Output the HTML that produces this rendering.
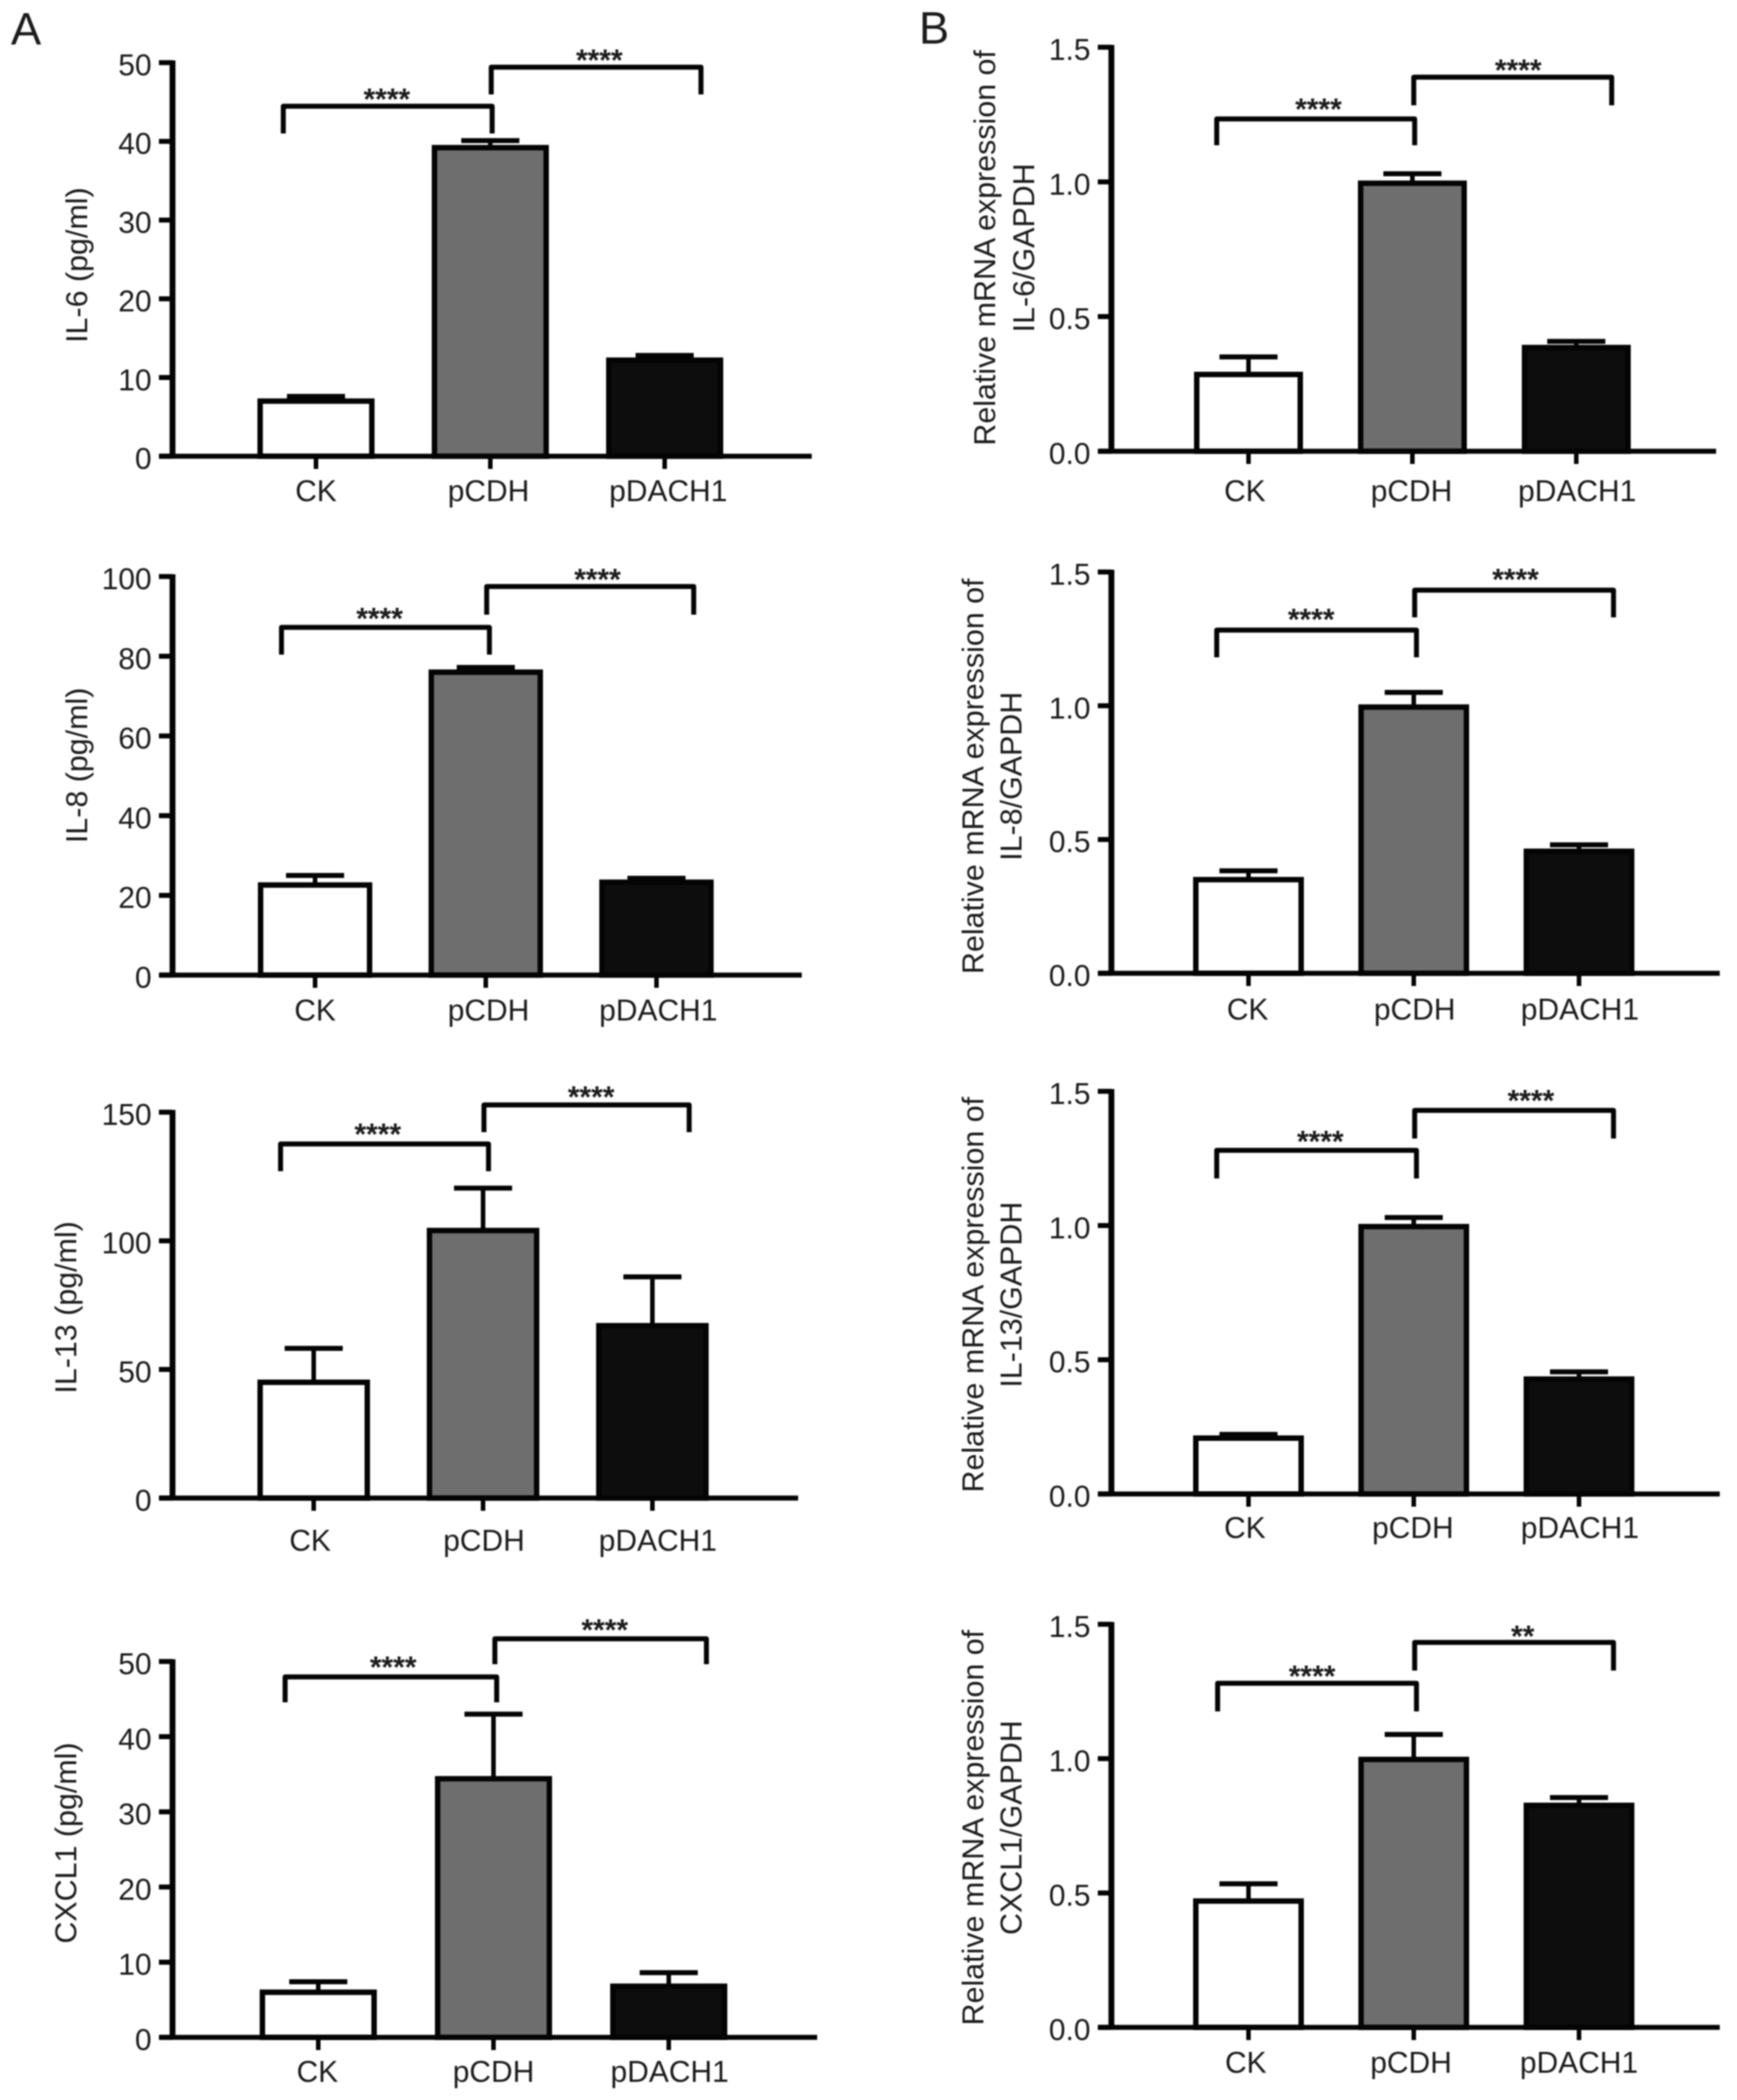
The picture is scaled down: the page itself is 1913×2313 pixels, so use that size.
<!DOCTYPE html>
<html lang="en">
<head>
<meta charset="utf-8">
<title>Cytokine levels and relative mRNA expression</title>
<style>
  html, body { margin: 0; padding: 0; background: #ffffff; }
  #figure { display: block; width: 1913px; height: 2313px; filter: blur(0.7px); }
  text { font-family: "Liberation Sans", sans-serif; fill: #1c1c1c; }
</style>
</head>
<body>
<svg id="figure" xmlns="http://www.w3.org/2000/svg" width="1913" height="2313" viewBox="0 0 1913 2313">
  <rect x="0" y="0" width="1913" height="2313" fill="#ffffff"/>
  <text x="12" y="49" font-size="50">A</text>
  <text x="1012" y="48" font-size="50">B</text>
</svg>
<script>
// ---- Chart data ----
const categories = ['CK', 'pCDH', 'pDACH1'];

const il6ProteinMeans = [7.0, 39.2, 12.2];
const il6ProteinTops = [7.6, 40.1, 12.8];
const il8ProteinMeans = [22.6, 76.0, 23.3];
const il8ProteinTops = [25.0, 77.2, 24.3];
const il13ProteinMeans = [45.0, 104.0, 67.0];
const il13ProteinTops = [58.2, 120.5, 86.0];
const cxcl1ProteinMeans = [6.0, 34.4, 6.8];
const cxcl1ProteinTops = [7.4, 43.0, 8.6];

const il6MrnaMeans = [0.285, 0.995, 0.385];
const il6MrnaTops = [0.35, 1.03, 0.408];
const il8MrnaMeans = [0.35, 0.995, 0.456];
const il8MrnaTops = [0.383, 1.05, 0.48];
const il13MrnaMeans = [0.208, 0.996, 0.428];
const il13MrnaTops = [0.222, 1.03, 0.455];
const cxcl1MrnaMeans = [0.47, 0.997, 0.826];
const cxcl1MrnaTops = [0.534, 1.09, 0.855];

const ticksIl6Protein = [0, 10, 20, 30, 40, 50];
const ticksIl8Protein = [0, 20, 40, 60, 80, 100];
const ticksIl13Protein = [0, 50, 100, 150];
const ticksCxcl1Protein = [0, 10, 20, 30, 40, 50];
const ticksMrna = ['0.0', '0.5', '1.0', '1.5'];

const significanceDefault = ['****', '****'];
const significanceCxcl1Mrna = ['****', '**'];

// ---- Panel wiring and layout ----
const barFills = ['#ffffff', '#6e6e6e', '#0d0d0d'];

const panels = [
  { id: 'il6-protein', means: il6ProteinMeans, tops: il6ProteinTops, ticks: ticksIl6Protein, stars: significanceDefault,
    title: ['IL-6 (pg/ml)'], titleX: [96], titleY: 292,
    axisX: 190, y0: 502.5, yTop: 69, xEnd: 894, x0: 348, step: 192, barW: 129, labelY: 552, labelDx: [0, -2, 4],
    brackets: [[312, 542, 117, 147, 426, 101], [541, 772, 74, 104, 660, 58]] },
  { id: 'il8-protein', means: il8ProteinMeans, tops: il8ProteinTops, ticks: ticksIl8Protein, stars: significanceDefault,
    title: ['IL-8 (pg/ml)'], titleX: [96], titleY: 843,
    axisX: 190, y0: 1074, yTop: 635, xEnd: 883, x0: 347, step: 188, barW: 126, labelY: 1124, labelDx: [0, 3, 2],
    brackets: [[310, 539, 691, 721, 418, 673], [536, 764, 646, 677, 658, 630]] },
  { id: 'il13-protein', means: il13ProteinMeans, tops: il13ProteinTops, ticks: ticksIl13Protein, stars: significanceDefault,
    title: ['IL-13 (pg/ml)'], titleX: [84], titleY: 1440,
    axisX: 190, y0: 1650, yTop: 1225, xEnd: 879, x0: 345.5, step: 186.5, barW: 124, labelY: 1708, labelDx: [-4, 1, 6],
    brackets: [[309, 538, 1260, 1290, 416, 1241], [533, 759, 1217, 1247, 651, 1200]] },
  { id: 'cxcl1-protein', means: cxcl1ProteinMeans, tops: cxcl1ProteinTops, ticks: ticksCxcl1Protein, stars: significanceDefault,
    title: ['CXCL1 (pg/ml)'], titleX: [84], titleY: 2030,
    axisX: 190, y0: 2244, yTop: 1830, xEnd: 900, x0: 350.5, step: 193, barW: 129, labelY: 2293, labelDx: [-1, 0, 1],
    brackets: [[314, 547, 1847, 1875, 433, 1828], [545, 778, 1805, 1833, 666, 1787]] },
  { id: 'il6-mrna', means: il6MrnaMeans, tops: il6MrnaTops, ticks: ticksMrna, stars: significanceDefault,
    title: ['Relative mRNA expression of', 'IL-6/GAPDH'], titleX: [1096, 1139], titleY: 273,
    axisX: 1224, y0: 497, yTop: 52, xEnd: 1890, x0: 1375, step: 180.5, barW: 120, labelY: 552, labelDx: [-4, -1, 1],
    brackets: [[1340, 1558, 131, 160, 1452, 112], [1557, 1775, 85, 116, 1672, 69]] },
  { id: 'il8-mrna', means: il8MrnaMeans, tops: il8MrnaTops, ticks: ticksMrna, stars: significanceDefault,
    title: ['Relative mRNA expression of', 'IL-8/GAPDH'], titleX: [1083, 1125], titleY: 855,
    axisX: 1224, y0: 1072, yTop: 630, xEnd: 1894, x0: 1375, step: 182, barW: 122, labelY: 1123, labelDx: [-1, 1, 1],
    brackets: [[1340, 1560, 694, 724, 1444, 674], [1558, 1777, 650, 680, 1669, 630]] },
  { id: 'il13-mrna', means: il13MrnaMeans, tops: il13MrnaTops, ticks: ticksMrna, stars: significanceDefault,
    title: ['Relative mRNA expression of', 'IL-13/GAPDH'], titleX: [1083, 1125], titleY: 1426,
    axisX: 1224, y0: 1645.5, yTop: 1202, xEnd: 1894, x0: 1375, step: 182, barW: 122, labelY: 1694, labelDx: [-4, -1, 1],
    brackets: [[1340, 1560, 1267, 1298, 1454, 1249], [1558, 1777, 1223, 1254, 1686, 1204]] },
  { id: 'cxcl1-mrna', means: cxcl1MrnaMeans, tops: cxcl1MrnaTops, ticks: ticksMrna, stars: significanceCxcl1Mrna,
    title: ['Relative mRNA expression of', 'CXCL1/GAPDH'], titleX: [1083, 1125], titleY: 2013,
    axisX: 1224, y0: 2233, yTop: 1789, xEnd: 1894, x0: 1375, step: 182, barW: 122, labelY: 2283, labelDx: [-3, -3, 0],
    brackets: [[1341, 1560, 1854, 1885, 1445, 1838], [1558, 1777, 1809, 1840, 1677, 1794]] }
];

// ---- Rendering ----
const NS = 'http://www.w3.org/2000/svg';
const root = document.getElementById('figure');
const INK = '#040404';
const STAR_FS = 33;

function make(parent, tag, attrs, content) {
  const el = document.createElementNS(NS, tag);
  Object.keys(attrs).forEach(function (k) { el.setAttribute(k, attrs[k]); });
  if (content !== undefined) el.textContent = content;
  parent.appendChild(el);
  return el;
}

function line(parent, x1, y1, x2, y2, w) {
  return make(parent, 'line', { x1: x1, y1: y1, x2: x2, y2: y2, stroke: INK, 'stroke-width': w });
}

panels.forEach(function (p) {
  const g = make(root, 'g', {});
  
  

  const tickValues = p.ticks.map(Number);
  const yMax = Math.max.apply(null, tickValues);
  const yScale = function (v) { return p.y0 - (v / yMax) * (p.y0 - p.yTop); };
  const xScale = function (i) { return p.x0 + i * p.step; };

  // bars and error bars, drawn first so the axis sits on top
  categories.forEach(function (cat, i) {
    const cx = xScale(i);
    const top = yScale(p.means[i]);
    const capY = yScale(p.tops[i]);
    const sw = 6;

    const stem = line(g, cx, top, cx, capY, 5);
    
    

    const cap = line(g, cx - 32, capY, cx + 32, capY, 5.5);
    
    

    const bar = make(g, 'rect', {
      x: cx - p.barW / 2 + sw / 2,
      y: top,
      width: p.barW - sw,
      height: Math.max(0, p.y0 - top),
      fill: barFills[i],
      stroke: INK,
      'stroke-width': sw
    });
    
    

    const tick = line(g, cx, p.y0, cx, p.y0 + 14, 5);
    
    

    const label = make(g, 'text', { x: cx + p.labelDx[i], y: p.labelY, 'font-size': 33, 'text-anchor': 'middle' }, cat);
    
    
  });

  // axes
  const yAxis = line(g, p.axisX, p.yTop - 2.5, p.axisX, p.y0 + 2.5, 6.5);
  
  

  const xAxis = line(g, p.axisX - 14, p.y0, p.xEnd, p.y0, 5.5);
  
  

  p.ticks.forEach(function (t) {
    const y = yScale(Number(t));
    const tick = line(g, p.axisX - 15, y, p.axisX, y, 5.5);
    
    

    const label = make(g, 'text', { x: p.axisX - 23, y: y + 14, 'font-size': 33, 'text-anchor': 'end' }, String(t));
    
    
  });

  // y-axis title (one or two rotated lines)
  p.title.forEach(function (txt, i) {
    const tx = p.titleX[i];
    const title = make(g, 'text', {
      x: tx, y: p.titleY, 'font-size': 33.5, 'text-anchor': 'middle', fill: '#222',
      transform: 'rotate(-90 ' + tx + ' ' + p.titleY + ')'
    }, txt);
    
    
  });

  // significance brackets
  p.brackets.forEach(function (b, i) {
    const path = make(g, 'path', {
      d: 'M' + b[0] + ' ' + b[3] + 'V' + b[2] + 'H' + b[1] + 'V' + b[3],
      fill: 'none', stroke: INK, 'stroke-width': 5.5, 'stroke-linejoin': 'round'
    });
    
    

    const star = make(g, 'text', {
      x: b[4], y: b[5] + STAR_FS * 0.59, 'font-size': STAR_FS, 'font-weight': 'bold', 'text-anchor': 'middle', fill: '#000'
    }, p.stars[i]);
    
    
  });
});
</script>
</body>
</html>
